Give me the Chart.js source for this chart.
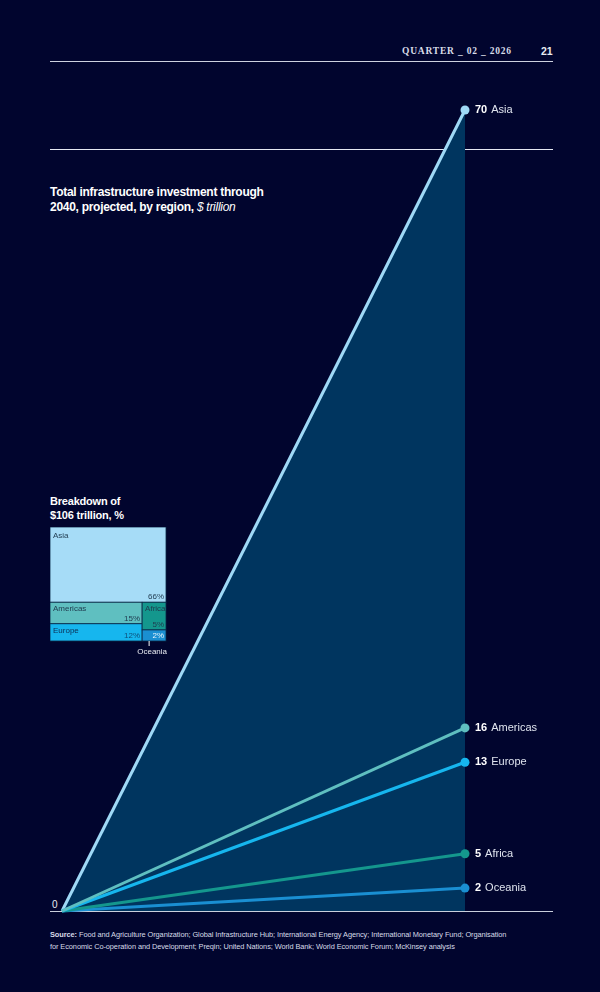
<!DOCTYPE html>
<html>
<head>
<meta charset="utf-8">
<script src="https://cdn.jsdelivr.net/npm/chart.js@4.4.1/dist/chart.umd.min.js"></script>
<style>
  html, body { margin: 0; padding: 0; }
  body { width: 600px; height: 992px; background: #01052e; position: relative; overflow: hidden;
         font-family: "Liberation Sans", Arial, sans-serif; color: #fff; }
  .abs { position: absolute; }
  .rule { position: absolute; left: 50px; width: 503px; height: 1px; background: #e6e9f2; }
  #main { position: absolute; left: 0; top: 0; }
  #tree { position: absolute; left: 50px; top: 527px; }
</style>
</head>
<body>
<div class="rule" style="top:60.5px;height:1.5px;background:#cdd2e0"></div>
<div class="rule" style="top:148.5px;height:1.5px"></div>
<div class="rule" style="top:910.5px;height:1.5px;background:#c9cfdc"></div>

<div class="abs" style="left:402px;top:46px;font-family:'Liberation Serif',serif;font-weight:bold;font-size:9.5px;letter-spacing:0.8px;color:#d8dce8">QUARTER _ 02 _ 2026</div>
<div class="abs" style="left:541px;top:45px;font-weight:bold;font-size:10.5px;color:#e8ebf2">21</div>

<div class="abs" style="left:50px;top:185px;font-size:12px;font-weight:bold;line-height:15px;letter-spacing:-0.28px">Total infrastructure investment through<br>2040, projected, by region, <span style="font-weight:normal;font-style:italic">$ trillion</span></div>

<div class="abs" style="left:50px;top:494px;font-size:11px;font-weight:bold;line-height:14px;letter-spacing:-0.2px">Breakdown of<br>$106 trillion, %</div>

<div class="abs" style="left:52px;top:899px;font-size:10px;color:#e8ebf2">0</div>

<div class="abs" style="left:50px;top:929px;font-size:7.4px;line-height:11.5px;letter-spacing:-0.08px;color:#d8dce8"><b>Source:</b> Food and Agriculture Organization; Global Infrastructure Hub; International Energy Agency; International Monetary Fund; Organisation<br>for Economic Co-operation and Development; Preqin; United Nations; World Bank; World Economic Forum; McKinsey analysis</div>

<canvas id="main" width="600" height="992"></canvas>
<canvas id="tree" width="130" height="135"></canvas>

<script>
// values
const regions = ["Asia", "Americas", "Europe", "Africa", "Oceania"];
const investment2040 = [70, 16, 13, 5, 2];
const periodLabels = ["now", "2040"];
const shares = [66, 15, 12, 5, 2];

const lineColors = ["#9fd9f6", "#5fbfc0", "#16b6ee", "#14978d", "#1a8fd2"];
const treeColors = ["#a6dcf7", "#5fbfc0", "#16b6ee", "#14978d", "#1a8fd2"];

// lines fanning out from 0, Asia drawn first so its fill sits underneath
const datasets = regions.map((r, i) => ({
  label: r,
  data: [0, investment2040[i]],
  borderColor: lineColors[i],
  backgroundColor: lineColors[i],
  pointBackgroundColor: lineColors[i],
  pointBorderWidth: 0,
  pointRadius: [0, 4.5],
  borderWidth: 3,
  tension: 0,
  clip: false,
  order: i === 0 ? 10 : i,
  fill: i === 0 ? { target: "origin", above: "#00355f" } : false,
}));

const endLabels = {
  id: "endLabels",
  afterDatasetsDraw(chart) {
    const { ctx, chartArea, scales } = chart;
    ctx.save();
    ctx.textBaseline = "middle";
    regions.forEach((r, i) => {
      const y = scales.y.getPixelForValue(investment2040[i]);
      const x = chartArea.right + 10;
      ctx.font = "bold 11px 'Liberation Sans', Arial, sans-serif";
      ctx.fillStyle = "#ffffff";
      const num = String(investment2040[i]);
      ctx.fillText(num, x, y);
      const w = ctx.measureText(num).width;
      ctx.font = "11px 'Liberation Sans', Arial, sans-serif";
      ctx.fillStyle = "#dfe4ee";
      ctx.fillText(r, x + w + 4, y);
    });
    ctx.restore();
  },
};

new Chart(document.getElementById("main"), {
  type: "line",
  data: { labels: periodLabels, datasets },
  options: {
    responsive: false,
    animation: false,
    layout: { padding: { left: 62, right: 135, top: 110, bottom: 81 } },
    plugins: { legend: { display: false }, tooltip: { enabled: false } },
    scales: {
      x: { display: false, offset: false },
      y: { display: false, min: 0, max: 70 },
    },
  },
  plugins: [endLabels],
});

// treemap: Asia on top, then [Americas, Europe] and [Africa, Oceania] columns
const treemap = {
  id: "treemap",
  afterDraw(chart) {
    const { ctx, scales } = chart;
    const X = (v) => scales.x.getPixelForValue(v);
    const Y = (v) => scales.y.getPixelForValue(v);
    const rest = 100 - shares[0];
    const leftW = ((shares[1] + shares[2]) / rest) * 100;
    const splitL = shares[0] + rest * shares[1] / (shares[1] + shares[2]);
    const splitR = shares[0] + rest * shares[3] / (shares[3] + shares[4]);
    const cells = [
      [0, 0, 100, shares[0]],
      [0, shares[0], leftW, splitL],
      [0, splitL, leftW, 100],
      [leftW, shares[0], 100, splitR],
      [leftW, splitR, 100, 100],
    ];
    ctx.save();
    cells.forEach((c, i) => {
      const x0 = X(c[0]), y0 = Y(c[1]), x1 = X(c[2]), y1 = Y(c[3]);
      ctx.fillStyle = treeColors[i];
      ctx.fillRect(x0, y0, x1 - x0, y1 - y0);
      ctx.strokeStyle = "#0b2a48";
      ctx.lineWidth = 0.8;
      ctx.strokeRect(x0, y0, x1 - x0, y1 - y0);
    });
    ctx.font = "8px 'Liberation Sans', Arial, sans-serif";
    ctx.textBaseline = "alphabetic";
    const dark = "#1f3a4e";
    // names
    [[0, 3, 11, dark], [1, 3, 9, dark], [2, 3, 9, "#0d2f55"], [3, 3, 9, dark]]
      .forEach(([i, dx, dy, col]) => {
        ctx.fillStyle = col;
        ctx.textAlign = "left";
        ctx.fillText(regions[i], X(cells[i][0]) + dx, Y(cells[i][1]) + dy);
      });
    // shares
    [[0, dark], [1, dark], [2, "#0d4f7a"], [3, dark], [4, "#e8f4fb"]].forEach(([i, col]) => {
      ctx.fillStyle = col;
      ctx.textAlign = "right";
      ctx.fillText(shares[i] + "%", X(cells[i][2]) - 2, Y(cells[i][3]) - 3);
    });
    // Oceania callout below the box
    const ox = X(cells[4][0]) + 7;
    ctx.strokeStyle = "#ffffff";
    ctx.lineWidth = 1;
    ctx.beginPath();
    ctx.moveTo(ox, Y(100));
    ctx.lineTo(ox, Y(100) + 5);
    ctx.stroke();
    ctx.fillStyle = "#e8ebf2";
    ctx.textAlign = "center";
    ctx.fillText(regions[4], ox + 3, Y(100) + 13);
    ctx.restore();
  },
};

new Chart(document.getElementById("tree"), {
  type: "scatter",
  data: { datasets: [{ data: [] }] },
  options: {
    responsive: false,
    animation: false,
    layout: { padding: { left: 0, right: 14, top: 0, bottom: 21 } },
    plugins: { legend: { display: false }, tooltip: { enabled: false } },
    scales: {
      x: { display: false, min: 0, max: 100 },
      y: { display: false, min: 0, max: 100, reverse: true },
    },
  },
  plugins: [treemap],
});
</script>
</body>
</html>
